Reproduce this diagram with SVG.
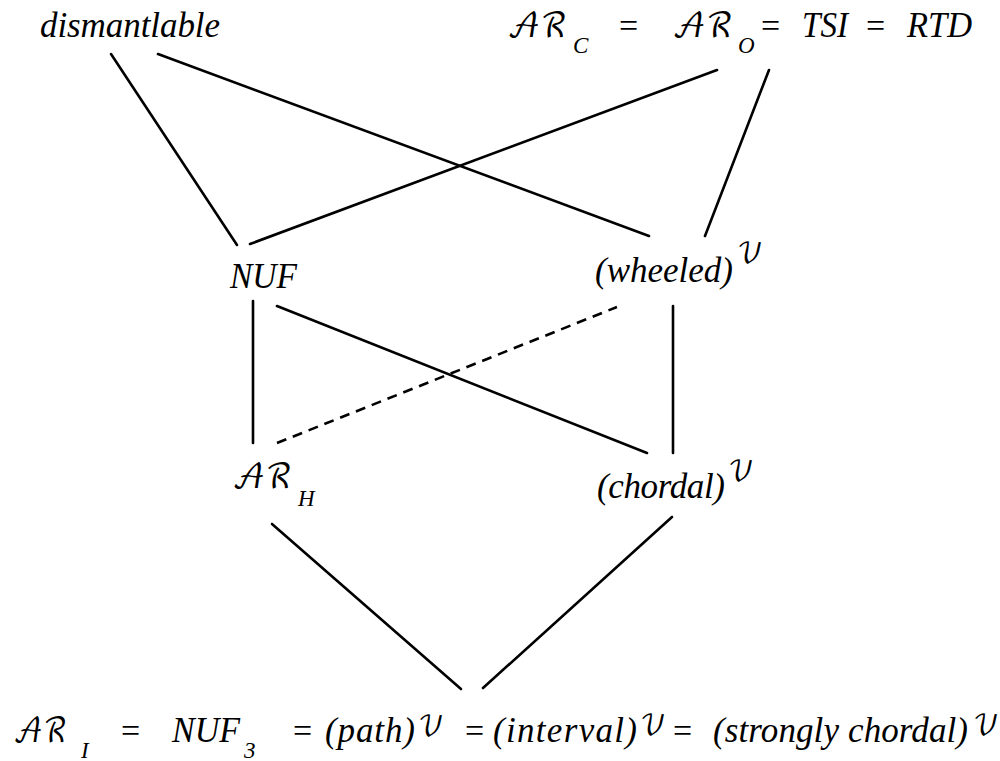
<svg xmlns="http://www.w3.org/2000/svg" width="1000" height="761" viewBox="0 0 1000 761">
<style>
text{fill:#000}
.t{font-family:'Liberation Serif','Times New Roman','DejaVu Serif',serif;font-style:italic;font-size:35px}
.eq{font-family:'Liberation Serif','Times New Roman','DejaVu Serif',serif;font-size:34px}
.sub{font-family:'Liberation Serif','Times New Roman','DejaVu Serif',serif;font-style:italic;font-size:23px}
.scr{font-family:'DejaVu Math TeX Gyre','DejaVu Serif','DejaVu Sans',serif;font-size:34px}
.sup{font-family:'DejaVu Math TeX Gyre','DejaVu Serif','DejaVu Sans',serif;font-size:27px}
.e{stroke:#000;stroke-width:2.6;fill:none;stroke-linecap:round}
.d{stroke-dasharray:10 7;stroke-linecap:butt}
</style>
<rect width="1000" height="761" fill="#fff"/>
<g id="connectors">
<line class="e" x1="111" y1="54" x2="237" y2="245"/>
<line class="e" x1="158" y1="54" x2="649" y2="236"/>
<line class="e" x1="717" y1="70" x2="250" y2="244"/>
<line class="e" x1="769" y1="70" x2="705" y2="236"/>
<line class="e" x1="253" y1="301" x2="253" y2="443"/>
<line class="e" x1="277" y1="306" x2="647" y2="453"/>
<line class="e d" x1="277" y1="443" x2="617" y2="307"/>
<line class="e" x1="673" y1="306" x2="673" y2="453"/>
<line class="e" x1="272" y1="524" x2="461" y2="689"/>
<line class="e" x1="672" y1="517" x2="483" y2="688"/>
</g>
<g id="dismantlable">
<text class="t" x="40" y="37" textLength="180" lengthAdjust="spacing">dismantlable</text>
</g>
<g id="arc-aro-tsi-rtd">
<text class="scr" x="507" y="37" textLength="60" lengthAdjust="spacingAndGlyphs">𝒜ℛ</text>
<text class="sub" x="573" y="53">C</text>
<text class="eq" x="619" y="37">=</text>
<text class="scr" x="672" y="37" textLength="61" lengthAdjust="spacingAndGlyphs">𝒜ℛ</text>
<text class="sub" x="738" y="53">O</text>
<text class="eq" x="761" y="37">=</text>
<text class="t" x="802" y="37" textLength="46" lengthAdjust="spacingAndGlyphs">TSI</text>
<text class="eq" x="866" y="37">=</text>
<text class="t" x="907" y="37" textLength="65" lengthAdjust="spacingAndGlyphs">RTD</text>
</g>
<g id="nuf">
<text class="t" x="230" y="288" textLength="67" lengthAdjust="spacingAndGlyphs">NUF</text>
</g>
<g id="wheeled">
<text class="t" x="595" y="282" textLength="138" lengthAdjust="spacing">(wheeled)</text>
<text class="sup" x="737" y="263">𝒱</text>
</g>
<g id="arh">
<text class="scr" x="232" y="488" textLength="60" lengthAdjust="spacingAndGlyphs">𝒜ℛ</text>
<text class="sub" x="298" y="506">H</text>
</g>
<g id="chordal">
<text class="t" x="597" y="498" textLength="128" lengthAdjust="spacing">(chordal)</text>
<text class="sup" x="728" y="481">𝒱</text>
</g>
<g id="ari-nuf3-path-interval-strongly-chordal">
<text class="scr" x="13" y="742" textLength="54" lengthAdjust="spacingAndGlyphs">𝒜ℛ</text>
<text class="sub" x="81" y="758">I</text>
<text class="eq" x="121" y="742">=</text>
<text class="t" x="172" y="742" textLength="68" lengthAdjust="spacingAndGlyphs">NUF</text>
<text class="sub" x="244" y="758">3</text>
<text class="eq" x="293" y="742">=</text>
<text class="t" x="325" y="742" textLength="90" lengthAdjust="spacing">(path)</text>
<text class="sup" x="418" y="736">𝒱</text>
<text class="eq" x="465" y="742">=</text>
<text class="t" x="493" y="742" textLength="144" lengthAdjust="spacing">(interval)</text>
<text class="sup" x="640" y="735">𝒱</text>
<text class="eq" x="673" y="742">=</text>
<text class="t" x="713" y="742" textLength="255" lengthAdjust="spacing">(strongly chordal)</text>
<text class="sup" x="973" y="735">𝒱</text>
</g>
</svg>
